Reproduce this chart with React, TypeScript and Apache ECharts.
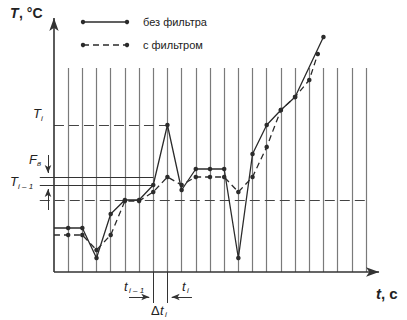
import React, { useEffect, useRef } from "react";
import * as echarts from "echarts";

// time index (grid steps) and temperature (arbitrary units)
const rawX = [0, 1, 2, 3, 4, 5, 6, 7, 8, 9, 10, 11, 12, 13, 14, 15, 16, 17, 19];
const rawT = [44, 44, 44, 14, 58, 72, 72, 87, 147, 82, 103, 103, 103, 14, 118, 147, 162, 175, 235];
const filtX = [0, 1, 2, 3, 4, 5, 6, 7, 8, 9, 10, 11, 12, 13, 14, 15, 16, 17, 18, 18.6];
const filtT = [37, 37, 37, 22, 37, 71, 71, 80, 95, 87, 95, 95, 95, 80, 95, 125, 162, 175, 192, 218];
const gridTicks = [1, 2, 3, 4, 5, 6, 7, 8, 9, 10, 11, 12, 13, 14, 15, 16, 17, 18, 19, 20, 21, 22];
const gridTop = 204;
const levelTi = 147;
const levelUpper = 95;
const levelPrev = 87;
const levelBase = 72;
const tPrevIdx = 7;
const tCurIdx = 8;
const seriesNames = ["без фильтра", "с фильтром"];

const LINE = "#2b2b2b";
const GRID = "#7a7a7a";
const FONT = "'Liberation Sans', Arial, Helvetica, sans-serif";

export default function App() {
  const ref = useRef<HTMLDivElement>(null);
  useEffect(() => {
    if (!ref.current) return;
    const chart = echarts.init(ref.current, undefined, { renderer: "svg" });

    const mk = (x1: number, y1: number, x2: number, y2: number, style: any, endSym?: any) => [
      { coord: [x1, y1], symbol: "none", lineStyle: style },
      endSym ? { coord: [x2, y2], symbol: endSym.symbol, symbolSize: endSym.size } : { coord: [x2, y2], symbol: "none" },
    ];

    const gridStyle = { color: GRID, width: 1.2, type: "solid" };
    const axisStyle = { color: "#333", width: 1.6, type: "solid" };
    const refSolid = { color: "#333", width: 1, type: "solid" };
    const refDash = { color: "#444", width: 1, type: [10, 5] };
    const smallArrow = { symbol: "arrow", size: [5, 8] };

    const markLineBase = {
      silent: true,
      symbol: ["none", "none"],
      label: { show: false },
      animation: false,
      emphasis: { disabled: true },
    };

    const txt = (x: number, y: number, text: string, size: number, opts: any = {}) => ({
      type: "text",
      x,
      y,
      silent: true,
      style: {
        text,
        fill: opts.fill || "#222",
        font: `${opts.style || "normal"} ${opts.weight || "normal"} ${size}px ${FONT}`,
        textAlign: opts.align || "left",
        align: opts.align || "left",
        textVerticalAlign: "middle",
        verticalAlign: "middle",
      },
    });

    chart.setOption({
      animation: false,
      grid: { left: 25.6, right: 22, top: 12, bottom: 0 },
      xAxis: { type: "value", min: -2, max: 23.34, show: false },
      yAxis: { type: "value", min: -48, max: 260, show: false },
      series: [
        {
          type: "line",
          name: "grid",
          data: [],
          markLine: {
            ...markLineBase,
            data: gridTicks.map((k) => mk(k, 0, k, gridTop, gridStyle)),
          },
        },
        {
          type: "line",
          name: "refs",
          data: [],
          markLine: {
            ...markLineBase,
            data: [
              mk(0, levelTi, tCurIdx, levelTi, refDash),
              mk(-1, levelUpper, tPrevIdx, levelUpper, refSolid),
              mk(-1, levelPrev, tPrevIdx, levelPrev, refSolid),
              mk(-1, levelBase, 22, levelBase, refDash),
              // axes
              mk(0, 0, 0, 254, axisStyle, { symbol: "arrow", size: [7, 13] }),
              mk(0, 0, 22.92, 0, axisStyle, { symbol: "arrow", size: [7, 13] }),
              // F arrows
              mk(-0.42, 117, -0.42, 99, refSolid, smallArrow),
              mk(-0.42, 62, -0.42, 83, refSolid, smallArrow),
              // delta t
              mk(tPrevIdx, 0, tPrevIdx, -31, refSolid),
              mk(tCurIdx, 0, tCurIdx, -31, refSolid),
              mk(5.29, -25, 6.72, -25, refSolid, smallArrow),
              mk(9.73, -25, 8.3, -25, refSolid, smallArrow),
            ],
          },
        },
        {
          type: "line",
          name: seriesNames[0],
          data: rawX.map((x, i) => (i === 0 ? { value: [x, rawT[i]], symbol: "none" } : [x, rawT[i]])),
          symbol: "circle",
          symbolSize: 4.5,
          itemStyle: { color: LINE },
          lineStyle: { color: LINE, width: 1.3 },
          z: 5,
        },
        {
          type: "line",
          name: seriesNames[1],
          data: filtX.map((x, i) => (i === 0 ? { value: [x, filtT[i]], symbol: "none" } : [x, filtT[i]])),
          symbol: "circle",
          symbolSize: 4.5,
          itemStyle: { color: LINE },
          lineStyle: { color: LINE, width: 1.3, type: [6, 4] },
          z: 5,
        },
      ],
      graphic: [
        // legend
        { type: "line", shape: { x1: 83, y1: 22, x2: 127, y2: 22 }, style: { stroke: LINE, lineWidth: 1.3 } },
        { type: "circle", shape: { cx: 83, cy: 22, r: 2.2 }, style: { fill: LINE } },
        { type: "circle", shape: { cx: 127, cy: 22, r: 2.2 }, style: { fill: LINE } },
        txt(143, 22, seriesNames[0], 11),
        { type: "line", shape: { x1: 83, y1: 45, x2: 127, y2: 45 }, style: { stroke: LINE, lineWidth: 1.3, lineDash: [6, 4] } },
        { type: "circle", shape: { cx: 83, cy: 45, r: 2.2 }, style: { fill: LINE } },
        { type: "circle", shape: { cx: 127, cy: 45, r: 2.2 }, style: { fill: LINE } },
        txt(143, 45, seriesNames[1], 11),
        // axis titles
        txt(10, 13, "T", 14, { style: "italic", weight: "bold" }),
        txt(19, 13, ", °C", 14, { weight: "bold" }),
        txt(376, 293, "t", 15, { style: "italic", weight: "bold" }),
        txt(381, 293, ", c", 15, { weight: "bold" }),
        // annotations
        txt(33, 113, "T", 13, { style: "italic" }),
        txt(41, 118, "i", 8, { style: "italic" }),
        txt(29, 159, "F", 13, { style: "italic" }),
        txt(37, 163, "в", 8, { style: "italic" }),
        txt(10, 181, "T", 13, { style: "italic" }),
        txt(18, 186, "i – 1", 8, { style: "italic" }),
        txt(124, 286, "t", 13, { style: "italic" }),
        txt(129, 290, "i – 1", 8, { style: "italic" }),
        txt(182, 286, "t", 13, { style: "italic" }),
        txt(187, 290, "i", 8, { style: "italic" }),
        txt(151, 310, "Δ", 13),
        txt(160, 310, "t", 13, { style: "italic" }),
        txt(165, 314, "i", 8, { style: "italic" }),
      ],
    });
    return () => chart.dispose();
  }, []);
  return (
    <div
      ref={ref}
      style={{ position: "fixed", left: 0, top: 0, width: 407, height: 320, background: "#fff" }}
    />
  );
}
